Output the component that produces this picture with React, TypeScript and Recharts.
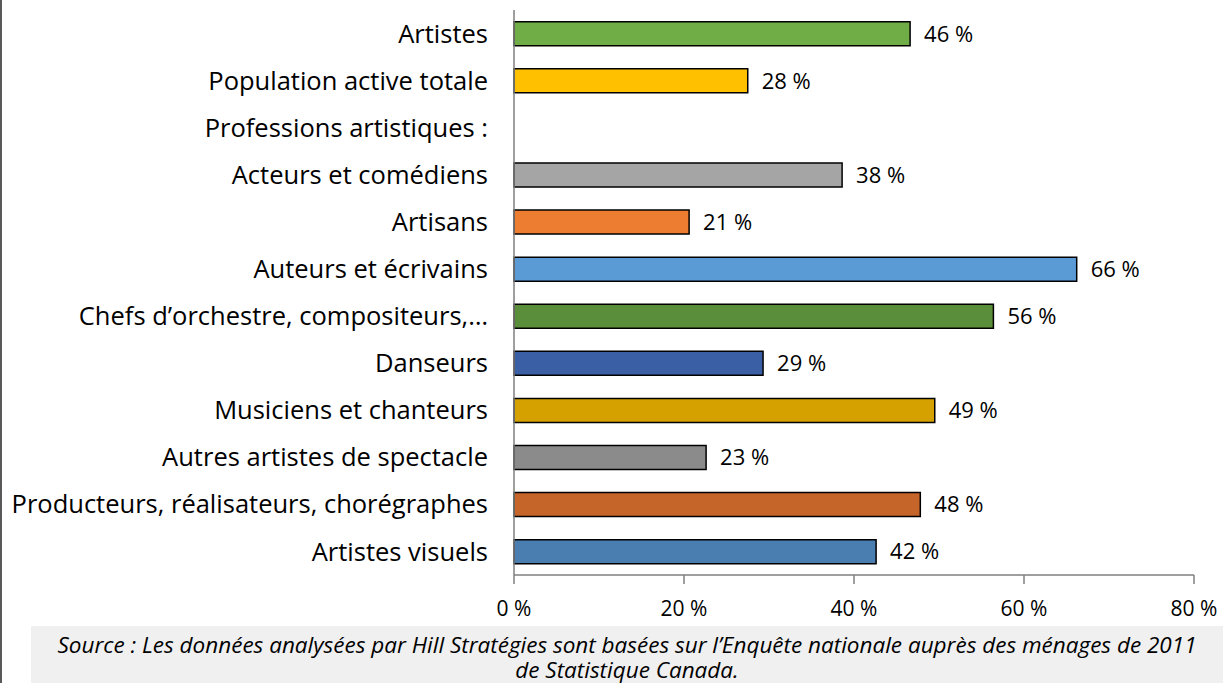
import { Bar, BarChart, Cell, LabelList, XAxis, YAxis } from "recharts";

const categories = [
  "Artistes",
  "Population active totale",
  "Professions artistiques :",
  "Acteurs et comédiens",
  "Artisans",
  "Auteurs et écrivains",
  "Chefs d’orchestre, compositeurs,…",
  "Danseurs",
  "Musiciens et chanteurs",
  "Autres artistes de spectacle",
  "Producteurs, réalisateurs, chorégraphes",
  "Artistes visuels",
];
const values = [46.6, 27.5, null, 38.6, 20.6, 66.2, 56.4, 29.3, 49.5, 22.6, 47.8, 42.6];
const valueLabels = ["46 %", "28 %", "", "38 %", "21 %", "66 %", "56 %", "29 %", "49 %", "23 %", "48 %", "42 %"];
const colors = [
  "#70AD47", "#FFC000", "#FFFFFF", "#A5A5A5", "#ED7D31", "#5B9BD5",
  "#5B8E3A", "#3A5FA5", "#D4A100", "#8B8B8B", "#C5652A", "#4A7EB0",
];
const xTicks = [0, 20, 40, 60, 80];
const sourceLines = [
  "Source : Les données analysées par Hill Stratégies sont basées sur l’Enquête nationale auprès des ménages de 2011",
  "de Statistique Canada.",
];

const data = categories.map((name, i) => ({ name, value: values[i], label: valueLabels[i] }));

const FONT = "'Open Sans', sans-serif";

export default function App() {
  return (
    <div style={{ position: "absolute", left: 0, top: 0, width: 1223, height: 683, background: "#fff", fontFamily: FONT }}>
      <div style={{ position: "absolute", left: 0, top: 0, width: 2, height: 683, background: "#595959" }} />
      <BarChart
        layout="vertical"
        width={1223}
        height={625}
        data={data}
        barCategoryGap="25%"
        margin={{ top: 10, right: 29, bottom: 0, left: 0 }}
      >
        <XAxis
          type="number"
          domain={[0, 80]}
          ticks={xTicks}
          tickFormatter={(v: number) => `${v} %`}
          axisLine={{ stroke: "#7f7f7f", strokeWidth: 1.5 }}
          tickLine={{ stroke: "#7f7f7f", strokeWidth: 1.5 }}
          tickSize={9}
          tickMargin={17}
          height={50}
          tick={{ fill: "#000", fontSize: 21, fontFamily: FONT }}
        />
        <YAxis
          type="category"
          dataKey="name"
          width={514}
          axisLine={{ stroke: "#7f7f7f", strokeWidth: 1.5 }}
          tickLine={false}
          tickMargin={20}
          interval={0}
          tick={{ fill: "#000", fontSize: 25.5, fontFamily: FONT }}
        />
        <Bar dataKey="value" isAnimationActive={false} stroke="#000" strokeWidth={1.5}>
          {data.map((d, i) => (
            <Cell key={d.name} fill={colors[i]} />
          ))}
          <LabelList dataKey="label" position="right" offset={14} fill="#000" fontSize={22} fontFamily={FONT} />
        </Bar>
      </BarChart>
      <div
        style={{
          position: "absolute",
          left: 31,
          top: 626,
          width: 1192,
          height: 57,
          background: "#F0F0F0",
          fontStyle: "italic",
          fontSize: 22.5,
          color: "#000",
        }}
      >
        {sourceLines.map((line, i) => (
          <div
            key={i}
            style={{
              position: "absolute",
              left: 0,
              width: 1192,
              top: 6 + i * 25,
              height: 25,
              lineHeight: "25px",
              textAlign: "center",
              whiteSpace: "nowrap",
            }}
          >
            {line}
          </div>
        ))}
      </div>
    </div>
  );
}
